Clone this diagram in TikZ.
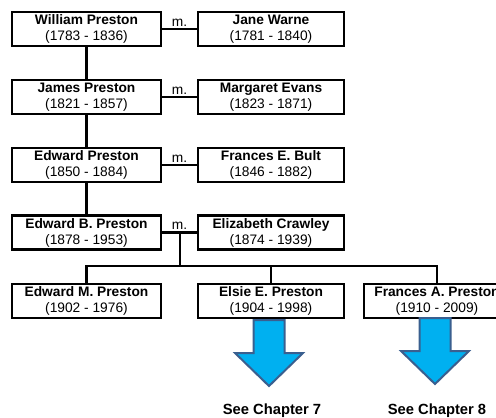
\documentclass[tikz,border=0pt]{standalone}
\usepackage{fontspec}
\setmainfont{Liberation Sans}
\usetikzlibrary{positioning}
\definecolor{arrowfill}{HTML}{00B0F0}
\definecolor{arrowedge}{HTML}{3A5F8F}
\tikzset{
  person/.style={draw=black, line width=2.2bp, fill=white, inner sep=0pt,
    minimum height=34bp, align=center, font=\fontsize{13.8}{16}\selectfont},
  leftcol/.style={person, minimum width=149bp},
  rightcol/.style={person, minimum width=146bp},
  wedline/.style={black, line width=2.2bp},
  wedlabel/.style={anchor=south, inner sep=1.5bp, font=\fontsize{13.8}{16}\selectfont},
  bigarrow/.style={draw=arrowedge, fill=arrowfill, line width=2bp, line join=miter},
  seelabel/.style={anchor=base, inner sep=0pt, font=\fontsize{14.8}{16}\selectfont\bfseries},
}
\begin{document}
\begin{tikzpicture}[x=1bp,y=-1bp]
%%
\clip (0,0) rectangle (496,417);
\node (william) at (86.5,29) [leftcol] {\textbf{William Preston}\\(1783 - 1836)};
  \node (jane) at (271,29) [rightcol] {\textbf{Jane Warne}\\(1781 - 1840)};
  \node (james) at (86.5,97) [leftcol] {\textbf{James Preston}\\(1821 - 1857)};
  \node (margaret) at (271,97) [rightcol] {\textbf{Margaret Evans}\\(1823 - 1871)};
  \node (edward) at (86.5,165) [leftcol] {\textbf{Edward Preston}\\(1850 - 1884)};
  \node (frances) at (271,165) [rightcol] {\textbf{Frances E. Bult}\\(1846 - 1882)};
  \node (edward_b) at (86.5,232.5) [leftcol] {\textbf{Edward B. Preston}\\(1878 - 1953)};
  \node (elizabeth) at (271,232.5) [rightcol] {\textbf{Elizabeth Crawley}\\(1874 - 1939)};
  \node (edward_m) at (86.5,301) [leftcol] {\textbf{Edward M. Preston}\\(1902 - 1976)};
  \node (elsie) at (271,301) [rightcol] {\textbf{Elsie E. Preston}\\(1904 - 1998)};
  \node (frances_a) at (437,301) [rightcol] {\textbf{Frances A. Preston}\\(1910 - 2009)};
  \coordinate (wed_4) at (180,232.5);
  \coordinate (fork) at (180,266);
  \draw [wedline] (william.east) -- node [wedlabel] {m.} (jane.west);
  \draw [wedline] (james.east) -- node [wedlabel] {m.} (margaret.west);
  \draw [wedline] (edward.east) -- node [wedlabel] {m.} (frances.west);
  \draw [wedline] (edward_b.east) -- node [wedlabel] {m.} (elizabeth.west);
  \draw [wedline] (william) -- (james);
  \draw [wedline] (james) -- (edward);
  \draw [wedline] (edward) -- (edward_b);
  \draw [wedline] (wed_4) -- (fork);
  \draw [wedline] (edward_m.north) |- (fork) -| (frances_a.north);
  \draw [wedline] (elsie.north) -- (elsie.north |- fork);
  % arrows to the chapters
  \coordinate (arrow_7) at (269,320);
  \coordinate (arrow_8) at (435,318);
  \foreach \a in {arrow_7, arrow_8}
    \draw [bigarrow] (\a) ++(-15.5,0) -- ++(31,0) -- ++(0,33) -- ++(18.5,0)
      -- ++(-34,33) -- ++(-34,-33) -- ++(18.5,0) -- cycle;
  \node (see_7) at (272,414) [seelabel] {See Chapter 7};
  \node (see_8) at (437,414) [seelabel] {See Chapter 8};
%
\end{tikzpicture}
\end{document}
